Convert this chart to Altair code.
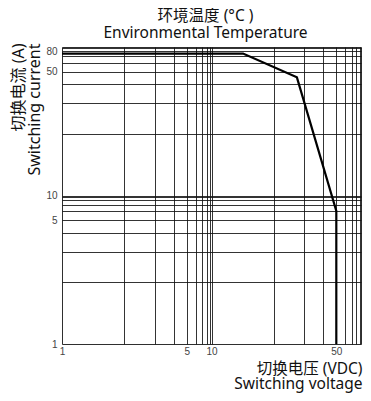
import math
import altair as alt
import pandas as pd

# ---- data ----
curve_voltage = [1, 14, 27, 50, 50]      # V DC
curve_current = [75, 75, 45, 6, 1]       # A
grid_values = [1, 2, 3, 4, 5, 6, 7, 8, 9, 10, 20, 30, 40, 50, 60, 70, 80, 90, 100]
x_labels = [1, 5, 10, 50]
y_labels = [1, 5, 10, 50, 80]

WARP_K = 1.5  # decade distortion of the printed log paper


def warp(v):
    lg = math.log10(v)
    d = math.floor(lg + 1e-9)
    f = lg - d
    return d + 1 - max(0.0, 1 - f) ** WARP_K


def warp_expr(field):
    lg = f"(log(datum.{field})/LN10)"
    d = f"floor({lg} + 1e-9)"
    return f"{d} + 1 - pow(max(0, 1 - ({lg} - {d})), {WARP_K})"


inv = ("round(pow(10, floor(datum.value + 1e-9) + 1 - "
       f"pow(max(0, 1 - (datum.value - floor(datum.value + 1e-9))), {1/WARP_K})))")


def label_expr(labels):
    arr = "[" + ",".join(str(v) for v in labels) + "]"
    return f"indexof({arr}, {inv}) >= 0 ? '' + {inv} : ''"


grid_pos = [warp(v) for v in grid_values]

df = pd.DataFrame({"v": curve_voltage, "i": curve_current, "k": range(len(curve_voltage))})

FONT_T = "Noto Sans, Noto Sans CJK SC"
FONT_L = "Liberation Sans"

x_axis = alt.Axis(
    values=grid_pos, labelExpr=label_expr(x_labels), labelOverlap=False,
    grid=True, gridColor="#111", gridWidth=1, gridOpacity=0.85,
    ticks=False, domain=False, labelPadding=2, labelFont=FONT_L, labelFontSize=10,
    labelColor="#444", labelFlush=False,
    title=["切换电压 (VDC)", "Switching voltage"], titleFont=FONT_T, titleFontSize=15.5,
    titleFontWeight="normal", titleColor="#111", titleLineHeight=15,
    titleAnchor="end", titleAlign="right", titleBaseline="top", titleX=300, titleY=17,
)
y_axis = alt.Axis(
    values=grid_pos, labelExpr=label_expr(y_labels), labelOverlap=False,
    grid=True, gridColor="#111", gridWidth=1, gridOpacity=0.85,
    ticks=False, domain=False, labelPadding=5, labelFont=FONT_L, labelFontSize=10,
    labelColor="#444", labelFlush=False,
    title=["切换电流 (A)", "Switching current"], titleFont=FONT_T, titleFontSize=16,
    titleFontWeight="normal", titleColor="#111", titleLineHeight=16,
    titleAngle=-90, titleAlign="right", titleBaseline="top", titleX=-52, titleY=-4,
)

chart = (
    alt.Chart(df)
    .transform_calculate(px=warp_expr("v"), py=warp_expr("i"))
    .mark_line(color="black", strokeWidth=2.2, strokeJoin="miter")
    .encode(
        x=alt.X("px:Q", scale=alt.Scale(domain=[0, 2], nice=False, zero=False), axis=x_axis),
        y=alt.Y("py:Q", scale=alt.Scale(domain=[0, 2], nice=False, zero=False), axis=y_axis),
        order="k:Q",
    )
    .properties(
        width=299, height=297,
        title=alt.TitleParams(
            ["环境温度 (°C )", "Environmental Temperature"], font=FONT_T, fontSize=15.5,
            fontWeight="normal", color="#111", lineHeight=16.5, anchor="middle", dx=-6, offset=1,
        ),
        autosize=alt.AutoSizeParams(type="none"),
        padding={"left": 54, "top": 39, "right": 2, "bottom": 49},
    )
    .configure_view(stroke="black", strokeWidth=1.5)
    .configure(background="white")
)

chart.save("out.html", embed_options={"renderer": "svg", "actions": False})
